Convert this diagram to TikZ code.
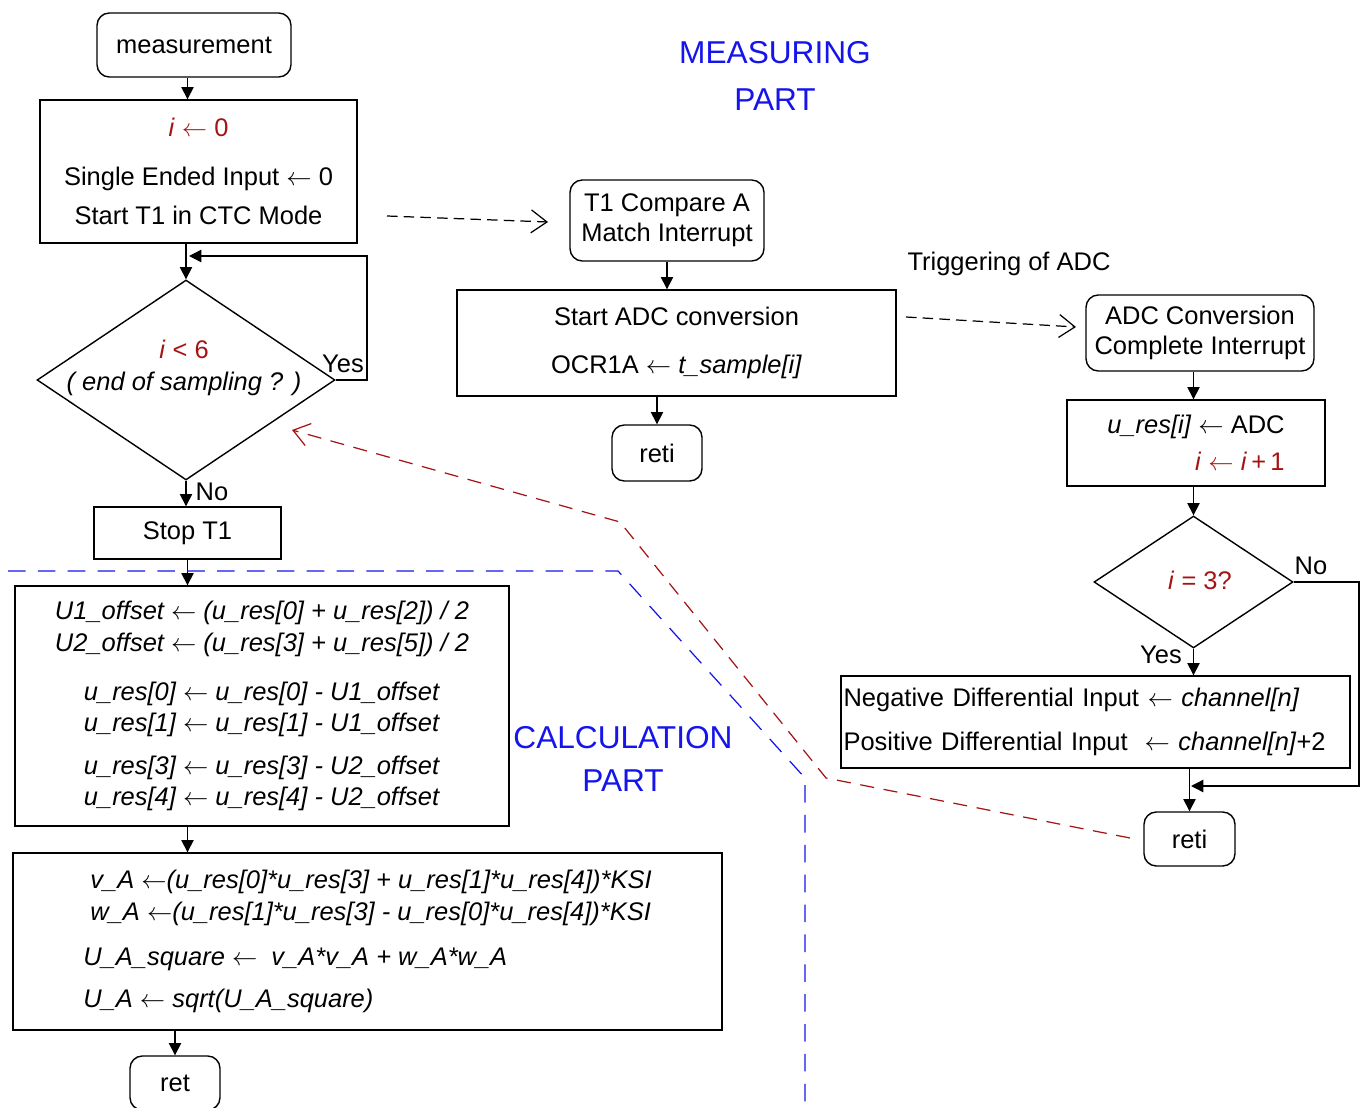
\documentclass[tikz,border=0pt]{standalone}
\usepackage{fontspec}
\setmainfont{Liberation Sans}
\usetikzlibrary{shapes}
\usetikzlibrary{positioning}
\usetikzlibrary{arrows.meta}
\definecolor{darkred}{RGB}{165,20,20}
\definecolor{partblue}{RGB}{20,20,235}
\tikzset{
    box/.style = {rectangle, draw=black, line width=0.8pt, inner sep=0pt, align=center, font=\fontsize{14.5}{17}\selectfont},
    term/.style = {box, rounded corners=7pt},
    cond/.style = {diamond, draw=black, line width=0.8pt, inner sep=0pt},
    txt/.style = {inner sep=0pt, align=center, font=\fontsize{14.5}{17}\selectfont},
    part/.style = {inner sep=0pt, align=center, text=partblue, font=\fontsize{18}{27}\selectfont},
    edgen/.style = {-{Triangle[length=7pt,width=7pt]}, line width=0.8pt},
    edged/.style = {-{Straight Barb[length=9pt,width=13pt]}, line width=0.7pt, dash pattern=on 6pt off 3.5pt}, % trigger
    edger/.style = {-{Straight Barb[length=9pt,width=13pt]}, line width=0.7pt, darkred, dash pattern=on 8pt off 5.5pt}, % return
    sep/.style = {partblue, line width=0.7pt, dash pattern=on 10pt off 7pt}
}
\newcommand{\R}[1]{\textcolor{darkred}{#1}}
\newcommand{\G}{$\leftarrow$}

\begin{document}
\begin{tikzpicture}[x=0.02cm,y=-0.02cm]
\useasboundingbox (0,0) rectangle (1363,1108);
\node[term, minimum width=3.88cm, minimum height=1.28cm] at (194,45) (meas) {measurement};
\node[box, minimum width=6.34cm, minimum height=2.86cm] at (198.5,171.5) (init) {\R{\textit{i} \G\ 0}\\[11pt] Single Ended Input \G\ 0\\[5pt] Start T1 in CTC Mode};
\node[cond, minimum width=5.96cm, minimum height=4cm] at (186,380) (loop) {};
\node[txt] at (184,368) (loopq) {\R{\textit{i} < 6}\\[1.5pt] \textit{( end of sampling ? )}};
\node[txt] at (343,364) (yes1) {Yes};
\node[txt] at (212,492) (no1) {No};
\node[box, minimum width=3.74cm, minimum height=1.04cm] at (187.5,533) (stop) {Stop T1};
\node[box, minimum width=9.88cm, minimum height=4.8cm] at (262,706) (offs) {\textit{U1\_offset \G\ (u\_res[0] + u\_res[2]) / 2}\\[1pt] \textit{U2\_offset \G\ (u\_res[3] + u\_res[5]) / 2}\\[11pt] \textit{u\_res[0] \G\ u\_res[0] - U1\_offset}\\[1pt] \textit{u\_res[1] \G\ u\_res[1] - U1\_offset}\\[7pt] \textit{u\_res[3] \G\ u\_res[3] - U2\_offset}\\[1pt] \textit{u\_res[4] \G\ u\_res[4] - U2\_offset}};
\node[box, align=left, minimum width=14.18cm, minimum height=3.54cm] at (367.5,941.5) (calc) {\hspace*{4pt}\textit{v\_A \G(u\_res[0]*u\_res[3] + u\_res[1]*u\_res[4])*KSI}\\[1pt] \hspace*{4pt}\textit{w\_A \G(u\_res[1]*u\_res[3] - u\_res[0]*u\_res[4])*KSI}\\[8.5pt] \textit{U\_A\_square \G\ \ v\_A*v\_A + w\_A*w\_A}\\[6.8pt] \textit{U\_A \G\ sqrt(U\_A\_square)}};
\node[term, minimum width=1.8cm, minimum height=1.08cm] at (175,1083) (ret) {ret};
%
\node[term, minimum width=3.88cm, minimum height=1.62cm] at (667,220.5) (t1int) {T1 Compare A\\Match Interrupt};
\node[box, minimum width=8.78cm, minimum height=2.12cm] at (676.5,343) (adcgo) {Start ADC conversion\\[10pt] OCR1A \G\ \textit{t\_sample[i]}};
\node[term, minimum width=1.8cm, minimum height=1.12cm] at (657,453) (reti1) {reti};
\node[txt] at (1009,264) (trig) {Triggering of ADC};
\node[term, minimum width=4.56cm, minimum height=1.52cm] at (1200,333) (adcint) {ADC Conversion\\Complete Interrupt};
\node[box, align=right, minimum width=5.16cm, minimum height=1.72cm] at (1196,443) (store) {\textit{u\_res[i]} \G\ ADC\\[4pt] \R{\textit{i} \G\ \textit{i}\,+\,1}};
\node[cond, minimum width=3.98cm, minimum height=2.64cm] at (1193.5,582) (check) {};
\node[txt] at (1200,580) (checkq) {\R{\textit{i} = 3?}};
\node[txt] at (1311,566) (no2) {No};
\node[txt] at (1161,655) (yes2) {Yes};
\node[box, align=left, text width=10.08cm, inner sep=0.05cm, minimum height=1.84cm] at (1095.5,722) (diff) {Negative Differential Input \G\ \textit{channel[n]}\\[8.5pt] Positive Differential Input \ \G\ \textit{channel[n]}+2};
\node[term, minimum width=1.82cm, minimum height=1.08cm] at (1189.5,839) (reti2) {reti};
%
\node[part] at (775,76) (mpart) {MEASURING\\PART};
\node[part, font=\fontsize{18}{24}\selectfont] at (623,759) (cpart) {CALCULATION\\PART};
%
\coordinate (yesr) at (367,256);
\coordinate (back) at (189,256);
\coordinate (nor) at (1359,786);
\coordinate (join) at (1191,786);
\coordinate (t1a) at (387,216);
\coordinate (t1b) at (548,222);
\coordinate (adca) at (906,317);
\coordinate (adcb) at (1076,327);
\coordinate (r1) at (1130,838);
\coordinate (r2) at (826,778);
\coordinate (r3) at (620,522);
\coordinate (r4) at (292,430);
\coordinate (s1) at (8,571);
\coordinate (s2) at (618,571);
\coordinate (s3) at (805,778);
\coordinate (s4) at (805,1108);
%
\draw[edgen] (meas.south -| stop) -- (init.north -| stop);
\draw[edgen] (init.south -| loop) -- (loop.north);
\draw[edgen] (loop.east) -| (yesr) -- (back);
\draw[edgen] (loop.south) -- (stop.north -| loop.south);
\draw[edgen] (stop.south) -- (stop.south |- offs.north);
\draw[edgen] (offs.south -| stop) -- (calc.north -| stop);
\draw[edgen] (calc.south -| ret) -- (ret.north);
\draw[edgen] (t1int.south) -- (t1int.south |- adcgo.north);
\draw[edgen] (reti1 |- adcgo.south) -- (reti1.north);
\draw[edgen] (adcint.south -| check) -- (store.north -| check);
\draw[edgen] (store.south -| check) -- (check.north);
\draw[edgen] (check.south) -- (check.south |- diff.north);
\draw[edgen] (check.east) -| (nor) -- (join);
\draw[edgen] (reti2 |- diff.south) -- (reti2.north);
\draw[edged] (t1a) -- (t1b);
\draw[edged] (adca) -- (adcb);
\draw[edger] (r1) -- (r2) -- (r3) -- (r4);
\draw[sep] (s1) -- (s2) -- (s3) -- (s4);
\end{tikzpicture}
\end{document}
